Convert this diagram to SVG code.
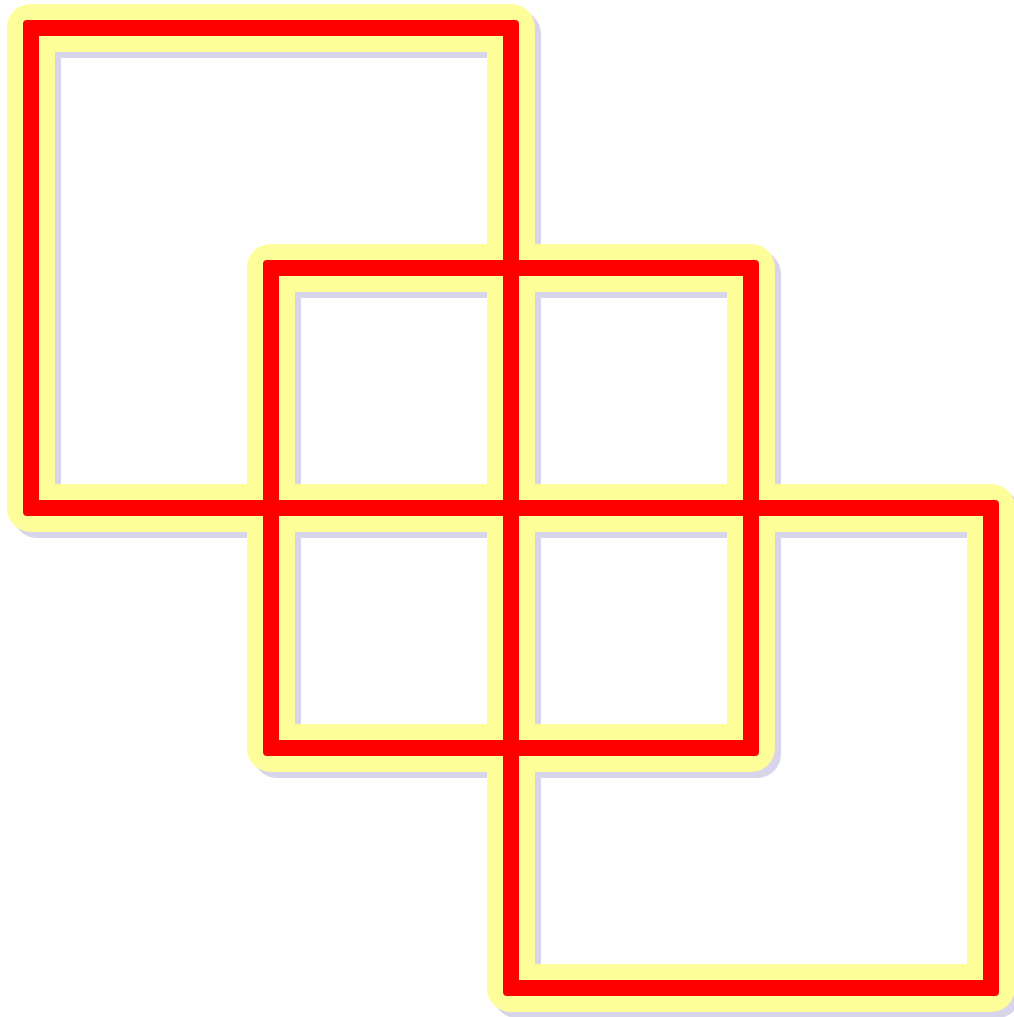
<svg xmlns="http://www.w3.org/2000/svg" xmlns:xlink="http://www.w3.org/1999/xlink" width="1014" height="1017" viewBox="0 0 1014 1017">
<style>
.shadow{fill:none;stroke:#d8d4ea;stroke-width:48;stroke-linejoin:round}
.halo{fill:none;stroke:#fdfd99;stroke-width:48;stroke-linejoin:round}
.line{fill:#ff0000;fill-rule:evenodd;stroke:none}
</style>
<defs>
<rect id="sq" x="31" y="28" width="480" height="480"/>
<path id="redsq" d="M27,20 H515 A4,4 0 0 1 519,24 V512 A4,4 0 0 1 515,516 H27 A4,4 0 0 1 23,512 V24 A4,4 0 0 1 27,20 Z M39,36 V500 H503 V36 Z"/>
</defs>
<rect width="1014" height="1017" fill="#ffffff"/>
<g id="shadows" class="shadow" transform="translate(6,6)">
<use xlink:href="#sq"/>
<use xlink:href="#sq" transform="translate(240,240)"/>
<use xlink:href="#sq" transform="translate(480,480)"/>
</g>
<g id="halos" class="halo">
<use xlink:href="#sq"/>
<use xlink:href="#sq" transform="translate(240,240)"/>
<use xlink:href="#sq" transform="translate(480,480)"/>
</g>
<g id="lines" class="line">
<use id="square1" xlink:href="#redsq"/>
<use id="square2" xlink:href="#redsq" transform="translate(240,240)"/>
<use id="square3" xlink:href="#redsq" transform="translate(480,480)"/>
</g>
</svg>
